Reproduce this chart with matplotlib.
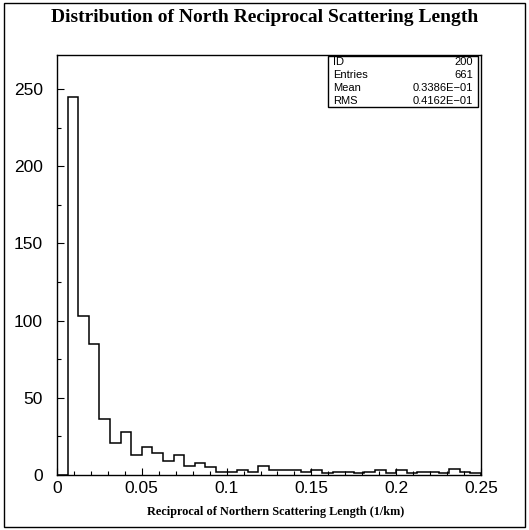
import numpy as np
import matplotlib
matplotlib.use("Agg")
import matplotlib.pyplot as plt
from matplotlib.patches import Rectangle
from matplotlib.ticker import MultipleLocator

# Histogram counts, 40 bins between 0 and 0.25 (1/km)
x_min = 0.0
x_max = 0.25
counts = [0, 245, 103, 85, 36, 21, 28, 13, 18, 14,
          9, 13, 6, 8, 5, 2, 2, 3, 2, 6,
          3, 3, 3, 2, 3, 1, 2, 2, 1, 2,
          3, 1, 3, 1, 2, 2, 1, 4, 2, 1]

stats_labels = ["ID", "Entries", "Mean", "RMS"]
stats_values = ["200", "661", "0.3386E\u221201", "0.4162E\u221201"]

title = "Distribution of North Reciprocal Scattering Length"
xlabel = "Reciprocal of Northern Scattering Length (1/km)"

edges = np.linspace(x_min, x_max, len(counts) + 1)

plt.rcParams["font.family"] = "Liberation Sans"

fig = plt.figure(figsize=(5.29, 5.30), dpi=100)
ax = fig.add_axes([57 / 529, 1 - 475 / 530, 424 / 529, 420 / 530])

ax.stairs(counts, edges, color="black", linewidth=1.1)

ax.set_xlim(x_min, x_max)
ax.set_ylim(0, 272)
ax.xaxis.set_major_locator(MultipleLocator(0.05))
ax.xaxis.set_minor_locator(MultipleLocator(0.01))
ax.yaxis.set_major_locator(MultipleLocator(50))
ax.yaxis.set_minor_locator(MultipleLocator(25))
ax.set_xticks([0, 0.05, 0.1, 0.15, 0.2, 0.25])
ax.set_xticklabels(["0", "0.05", "0.1", "0.15", "0.2", "0.25"])
ax.tick_params(which="both", direction="in", labelsize=12.5, width=0.8)
ax.tick_params(which="major", length=5, pad=4)
ax.tick_params(which="minor", length=3)
ax.tick_params(axis="y", which="both", pad=10)
for s in ax.spines.values():
    s.set_linewidth(1.0)

fig.text(265 / 529, 1 - 18 / 530, title, ha="center", va="center",
         family="Liberation Serif", fontweight="bold", fontsize=14)
fig.text(276 / 529, 1 - 512 / 530, xlabel, ha="center", va="center",
         family="Liberation Serif", fontweight="bold", fontsize=8.8)

# statistics box
bx0, bx1 = 328 / 529, 478 / 529
by0, by1 = 1 - 107 / 530, 1 - 56 / 530
fig.patches.append(Rectangle((bx0, by0), bx1 - bx0, by1 - by0,
                             transform=fig.transFigure, facecolor="white",
                             edgecolor="black", linewidth=1.0, zorder=5))
row_h = (by1 - by0) / len(stats_labels)
for i, (lab, val) in enumerate(zip(stats_labels, stats_values)):
    yy = by1 - (i + 0.5) * row_h
    fig.text(bx0 + 5 / 529, yy, lab, ha="left", va="center", fontsize=8, zorder=6)
    fig.text(bx1 - 5 / 529, yy, val, ha="right", va="center", fontsize=8, zorder=6)

# outer frame around the whole picture
fig.patches.append(Rectangle((4 / 529, 3 / 530), 521 / 529, 524 / 530,
                             transform=fig.transFigure, fill=False,
                             edgecolor="black", linewidth=1.0))

fig.savefig("out.png", dpi=100)
